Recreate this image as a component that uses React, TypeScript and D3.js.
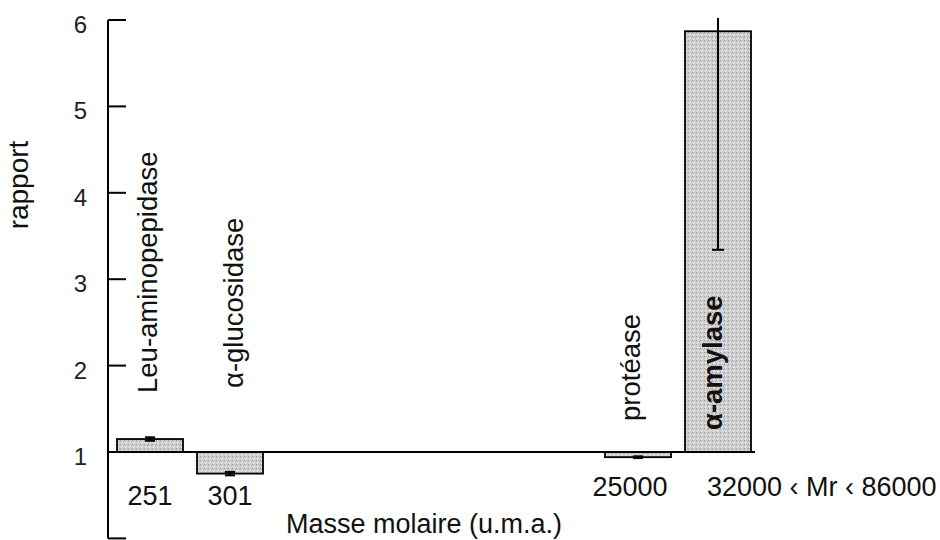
import * as d3 from 'd3'

// enzymes and their ratio (rapport) with error
const enzymes = ['Leu-aminopepidase', 'α-glucosidase', 'protéase', 'α-amylase']
const ratios = [1.15, 0.75, 0.94, 5.87]
const errors = [0.02, 0.02, 0.01, 2.53]
const massLabels = ['251', '301', '25000', '32000 ‹ Mr ‹ 86000']
// slot of each bar along the mass axis (not evenly spaced in the figure)
const slots = [0, 1, 6.1, 7.1]
const yTicks = [0, 1, 2, 3, 4, 5, 6]

const W = 940
const H = 540
const font = '"Liberation Sans", Arial, sans-serif'

// hand placed label offsets (px) from bar centre / baseline
const labelPos = [
  { dx: 7, y: 393 },
  { dx: 13, y: 388 },
  { dx: 2, y: 421 },
  { dx: 4, y: 430 },
]

export default function App() {
  const y = d3.scaleLinear().domain([0, 6]).range([538.4, 20])
  const x = d3.scaleLinear().domain([0, 7.1]).range([117, 685])
  const barW = 66
  const axisX = 108
  const base = y(1)

  return (
    <svg
      width={W}
      height={H}
      style={{ position: 'absolute', left: 0, top: 0, background: '#fff' }}
      fontFamily={font}
    >
      <defs>
        <pattern id="stipple" width="4" height="4" patternUnits="userSpaceOnUse">
          <rect width="4" height="4" fill="#cdcdcd" />
          <rect x="0" y="0" width="1" height="1" fill="#9a9a9a" />
          <rect x="2" y="2" width="1" height="1" fill="#f2f2f2" />
          <rect x="3" y="1" width="1" height="1" fill="#b0b0b0" />
          <rect x="1" y="3" width="1" height="1" fill="#eeeeee" />
        </pattern>
      </defs>

      {/* y axis */}
      <line x1={axisX} x2={axisX} y1={y(0)} y2={y(6)} stroke="#000" strokeWidth={2} />
      {yTicks.map((t) => (
        <g key={t}>
          <line x1={axisX} x2={axisX + 18} y1={y(t)} y2={y(t)} stroke="#000" strokeWidth={2} />
          {t > 0 && (
            <text x={87} y={y(t) + 13} textAnchor="end" fontSize={24} fill="#222">
              {t}
            </text>
          )}
        </g>
      ))}
      <text
        transform={`translate(28,185) rotate(-90)`}
        textAnchor="middle"
        fontSize={28}
        fill="#111"
      >
        rapport
      </text>

      {/* bars */}
      {ratios.map((v, i) => {
        const x0 = x(slots[i])
        const top = Math.min(y(v), base)
        const h = Math.abs(y(v) - base)
        return (
          <rect
            key={i}
            x={x0}
            y={top}
            width={barW}
            height={h}
            fill="url(#stipple)"
            stroke="#000"
            strokeWidth={1.8}
          />
        )
      })}

      {/* baseline at ratio = 1 */}
      <line x1={axisX} x2={x(slots[3]) + barW + 4} y1={base} y2={base} stroke="#000" strokeWidth={2} />

      {/* error bars */}
      {ratios.map((v, i) => {
        const cx = x(slots[i]) + barW / 2
        const hi = Math.min(v + errors[i], 6)
        const lo = v - errors[i]
        const cap = errors[i] > 0.1 ? 6 : 5
        return (
          <g key={i} stroke="#000" strokeWidth={2}>
            <line x1={cx} x2={cx} y1={y(hi) - (hi === 6 ? 2 : 0)} y2={y(lo)} />
            {hi < 6 && <line x1={cx - cap} x2={cx + cap} y1={y(hi)} y2={y(hi)} />}
            <line x1={cx - cap} x2={cx + cap} y1={y(lo)} y2={y(lo)} />
          </g>
        )
      })}

      {/* enzyme names */}
      {enzymes.map((name, i) => {
        const cx = x(slots[i]) + barW / 2 + labelPos[i].dx
        return (
          <text
            key={name}
            transform={`translate(${cx},${labelPos[i].y}) rotate(-90)`}
            fontSize={27.5}
            fontWeight={i === 3 ? 'bold' : 'normal'}
            fill="#111"
          >
            {name}
          </text>
        )
      })}

      {/* masses */}
      {massLabels.map((m, i) => {
        const last = i === massLabels.length - 1
        const cx = last ? x(slots[i]) + 22 : x(slots[i]) + barW / 2 - (i === 2 ? 8 : 0)
        return (
          <text
            key={m}
            x={cx}
            y={i < 2 ? 505 : 496}
            textAnchor={last ? 'start' : 'middle'}
            fontSize={27}
            fill="#111"
          >
            {m}
          </text>
        )
      })}
      <text x={286} y={533} fontSize={27} fill="#111">
        Masse molaire (u.m.a.)
      </text>
    </svg>
  )
}
